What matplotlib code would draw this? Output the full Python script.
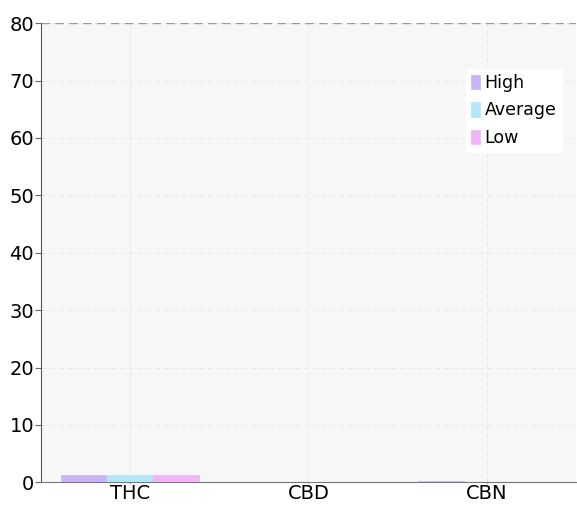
import matplotlib.pyplot as plt
import numpy as np

categories = ["THC", "CBD", "CBN"]
series = ["High", "Average", "Low"]
high = [1.3, 0.06, 0.15]
average = [1.3, 0.06, 0.12]
low = [1.3, 0.06, 0.1]
colors = ["#c8b4f6", "#b4e6fa", "#f0b4f6"]
yticks = [0, 10, 20, 30, 40, 50, 60, 70, 80]

fig, ax = plt.subplots(figsize=(5.77, 5.05), dpi=100)
fig.subplots_adjust(left=0.071, right=0.998, top=0.954, bottom=0.045)
ax.set_facecolor("#f7f7f7")

x = np.arange(len(categories))
w = 0.258
for i, (vals, name) in enumerate(zip([high, average, low], series)):
    ax.bar(x + (i - 1) * w, vals, w, color=colors[i], label=name,
           edgecolor=colors[i], linewidth=0.5, zorder=3)

ax.set_xlim(-0.5, 2.5)
ax.set_ylim(0, 80)
ax.set_yticks(yticks)
ax.set_xticks(x)
ax.set_xticklabels(categories)
ax.tick_params(axis="y", labelsize=14, length=4, color="#666666", pad=1)
ax.tick_params(axis="x", labelsize=14, length=1, color="#666666", pad=0)
ax.grid(True, color="#e8e8e8", linestyle=(0, (5, 4)), linewidth=0.7, zorder=0)
ax.axhline(80, color="#999999", linestyle=(0, (6, 4)), linewidth=1, zorder=4)

for s in ["top", "right"]:
    ax.spines[s].set_visible(False)
ax.spines["left"].set_color("#555555")
ax.spines["bottom"].set_color("#777777")

leg = ax.legend(loc="upper right", bbox_to_anchor=(0.99, 0.92), fontsize=12.5,
                frameon=True, fancybox=True, framealpha=1, edgecolor="white",
                handlelength=0.5, handleheight=0.9, handletextpad=0.3,
                labelspacing=0.55, borderpad=0.3)

fig.savefig("out.png")
